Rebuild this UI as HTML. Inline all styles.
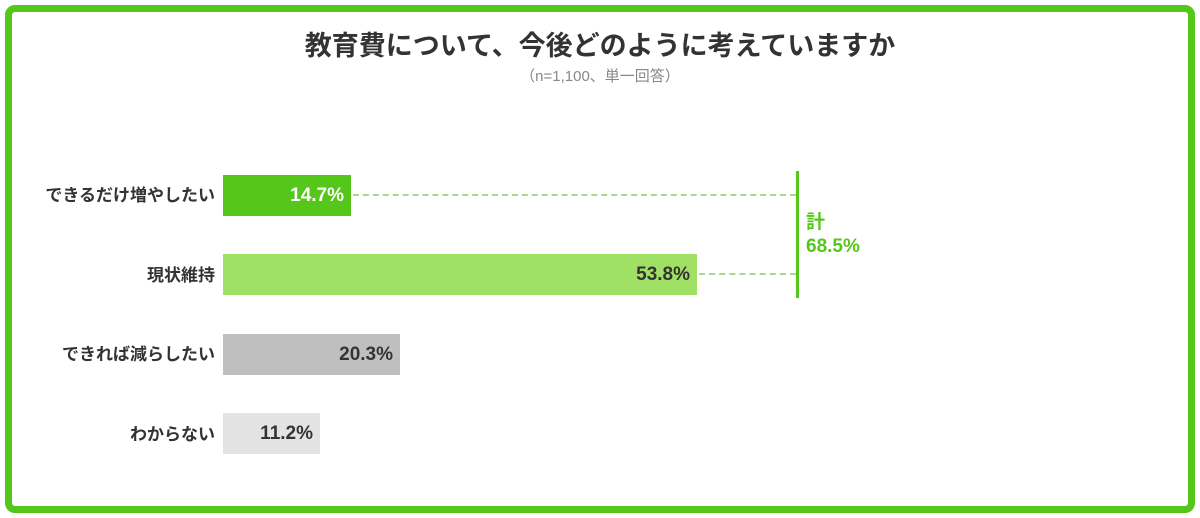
<!DOCTYPE html>
<html><head><meta charset="utf-8"><style>
body{margin:0;width:1200px;height:518px;background:#fff;overflow:hidden;font-family:"Liberation Sans","Noto Sans CJK JP",sans-serif;}
.frame{position:absolute;left:5px;top:5px;width:1176px;height:494px;border:7px solid #55c61a;border-radius:10px;}
.t{position:absolute;left:0;width:1200px;text-align:center;}
.lab{position:absolute;right:985px;font-weight:bold;font-size:17px;color:#333;text-align:right;white-space:nowrap;}
.bar{position:absolute;left:223px;height:41px;}
.val{position:absolute;font-weight:bold;font-size:19px;text-align:right;}
.dash{position:absolute;height:0;border-top:2px dashed #a6d98a;}
</style></head><body>
<div class="frame"></div>
<div class="t" style="top:24px;font-size:27px;font-weight:bold;color:#333;">教育費について、今後どのように考えていますか</div>
<div class="t" style="top:65px;font-size:15px;color:#888;">（n=1,100、単一回答）</div>

<div class="lab" style="top:181px;">できるだけ増やしたい</div>
<div class="bar" style="top:175px;width:128px;background:#55c61a;"></div>
<div class="val" style="left:223px;width:121px;top:185px;color:#fff;">14.7%</div>
<div class="dash" style="left:353px;width:443px;top:194px;"></div>

<div class="lab" style="top:261px;">現状維持</div>
<div class="bar" style="top:254px;width:474px;background:#9fe065;"></div>
<div class="val" style="left:223px;width:467px;top:264px;color:#333;">53.8%</div>
<div class="dash" style="left:699px;width:97px;top:273px;"></div>

<div style="position:absolute;left:796px;top:171px;width:3px;height:127px;background:#55c61a;"></div>
<div style="position:absolute;left:806px;top:211px;font-size:19px;font-weight:bold;color:#55c61a;line-height:24px;">計<br>68.5%</div>

<div class="lab" style="top:340px;">できれば減らしたい</div>
<div class="bar" style="top:334px;width:177px;background:#bfbfbf;"></div>
<div class="val" style="left:223px;width:170px;top:344px;color:#333;">20.3%</div>

<div class="lab" style="top:420px;">わからない</div>
<div class="bar" style="top:413px;width:97px;background:#e3e3e3;"></div>
<div class="val" style="left:223px;width:90px;top:423px;color:#333;">11.2%</div>
</body></html>
